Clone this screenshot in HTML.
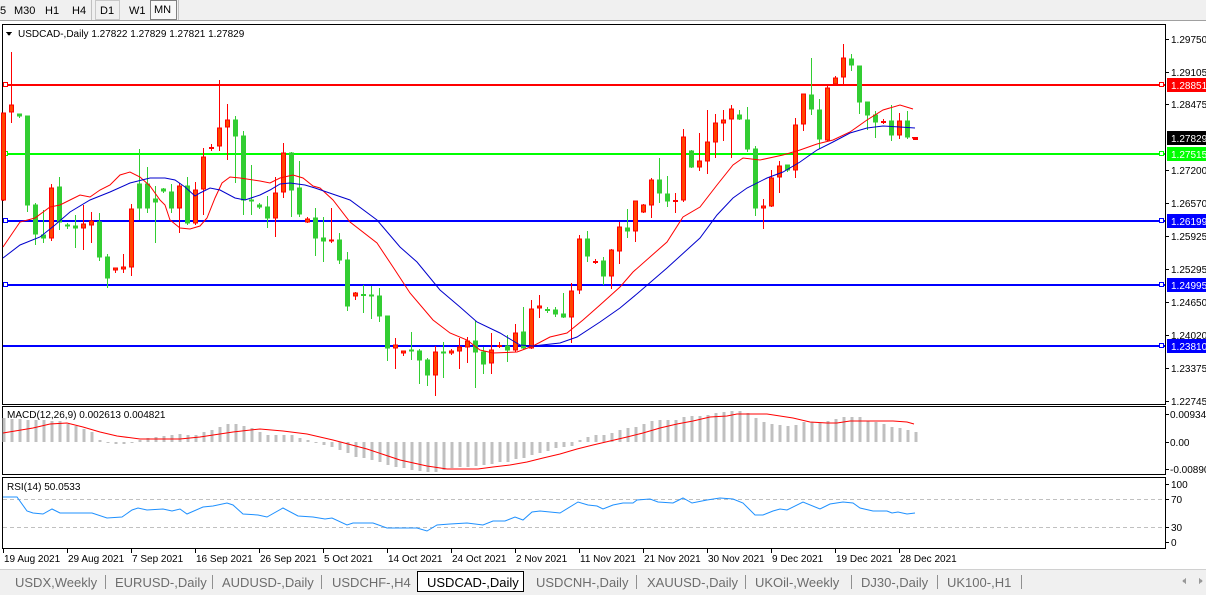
<!DOCTYPE html>
<html><head><meta charset="utf-8">
<style>
html,body{margin:0;padding:0;background:#fff;width:1206px;height:595px;overflow:hidden;font-family:"Liberation Sans",Tahoma,sans-serif;}
svg{display:block}
text{font-family:"Liberation Sans",Tahoma,sans-serif;font-size:10px;fill:#000}
</style></head><body>
<svg id="s" width="1206" height="595" xmlns="http://www.w3.org/2000/svg" shape-rendering="crispEdges">
<rect x="0" y="0" width="1206" height="595" fill="#fff"/>
<rect x="0" y="0" width="1206" height="21" fill="#f0f0f0"/>
<line x1="0" y1="20.5" x2="1206" y2="20.5" stroke="#a0a0a0"/>
<text x="0" y="14" style="font-size:11px">5</text>
<text x="14" y="14" style="font-size:11px">M30</text>
<text x="45" y="14" style="font-size:11px">H1</text>
<text x="72" y="14" style="font-size:11px">H4</text>
<rect x="95.5" y="0.5" width="24" height="19" fill="#f0f0f0" stroke="#c8c8c8"/>
<text x="100" y="14" style="font-size:11px">D1</text>
<text x="129" y="14" style="font-size:11px">W1</text>
<rect x="150.5" y="0.5" width="26" height="19" fill="#f8f8f8" stroke="#808080"/>
<text x="154" y="13" style="font-size:11px">MN</text>
<line x1="91.5" y1="0" x2="91.5" y2="20" stroke="#c0c0c0"/>
<line x1="178.5" y1="0" x2="178.5" y2="20" stroke="#c0c0c0"/>
<rect x="2.5" y="24.5" width="1163" height="380" fill="none" stroke="#000"/>
<rect x="2.5" y="406.5" width="1163" height="68" fill="none" stroke="#000"/>
<rect x="2.5" y="477.5" width="1163" height="71" fill="none" stroke="#000"/>
<g id="g"></g>
<polygon points="6,32 12,32 9,36" fill="#000"/>
<text x="18" y="37">USDCAD-,Daily  1.27822 1.27829 1.27821 1.27829</text>
<text x="7" y="418">MACD(12,26,9) 0.002613 0.004821</text>
<text x="7" y="490">RSI(14) 50.0533</text>
<rect x="0" y="569" width="1206" height="26" fill="#f0f0f0"/>
<line x1="0" y1="569.5" x2="1206" y2="569.5" stroke="#d0d0d0"/>
<rect x="417.5" y="571.5" width="106" height="20" fill="#fff" stroke="#000"/>
<text x="15" y="587" style="font-size:13px;fill:#6d6d6d">USDX,Weekly</text>
<text x="115" y="587" style="font-size:13px;fill:#6d6d6d">EURUSD-,Daily</text>
<text x="222" y="587" style="font-size:13px;fill:#6d6d6d">AUDUSD-,Daily</text>
<text x="332" y="587" style="font-size:13px;fill:#6d6d6d">USDCHF-,H4</text>
<text x="427" y="587" style="font-size:13px;fill:#000">USDCAD-,Daily</text>
<text x="536" y="587" style="font-size:13px;fill:#6d6d6d">USDCNH-,Daily</text>
<text x="647" y="587" style="font-size:13px;fill:#6d6d6d">XAUUSD-,Daily</text>
<text x="755" y="587" style="font-size:13px;fill:#6d6d6d">UKOil-,Weekly</text>
<text x="861" y="587" style="font-size:13px;fill:#6d6d6d">DJ30-,Daily</text>
<text x="947" y="587" style="font-size:13px;fill:#6d6d6d">UK100-,H1</text>
<g stroke="#909090">
<line x1="105.5" y1="575" x2="105.5" y2="589"/><line x1="212.5" y1="575" x2="212.5" y2="589"/>
<line x1="321.5" y1="575" x2="321.5" y2="589"/><line x1="636.5" y1="575" x2="636.5" y2="589"/>
<line x1="745.5" y1="575" x2="745.5" y2="589"/><line x1="851.5" y1="575" x2="851.5" y2="589"/>
<line x1="937.5" y1="575" x2="937.5" y2="589"/><line x1="1021.5" y1="575" x2="1021.5" y2="589"/>
</g>
<polygon points="1186,578 1182,581 1186,584" fill="#999"/>
<polygon points="1199,578 1203,581 1199,584" fill="#999"/>
</svg>
<script>
var g=document.getElementById('g'),h='';
function X(i){return 3.5+8*i;}
var C=[
['u',113,201,113,201],['u',105,113,52,123],['d',114,117,114,118],['d',116,206,116,212],['d',205,235,203,245],['d',235,239,210,243],['u',188,239,184,241],['d',187,223,177,230],['d',225,227,223,229],['d',226,229,215,248],
['u',224,229,205,250],['u',221,226,212,243],['d',222,258,213,261],['d',257,279,254,288],['u',268,271,268,273],['u',267,270,254,273],['u',209,268,204,276],['d',184,209,149,220],['d',184,209,167,213],['d',199,203,186,243],
['d',189,192,188,193],['d',192,209,184,213],['u',186,209,183,233],['d',186,224,177,225],['u',190,224,182,225],['u',157,190,148,215],['u',147,148,144,151],['u',128,147,80,151],['u',120,128,104,160],['d',120,137,116,183],
['d',136,201,131,215],['d',200,202,165,215],['d',205,208,203,209],['d',207,219,196,228],['u',193,219,177,237],['u',153,193,143,198],['d',153,191,152,217],['d',188,215,161,217],['u',219,223,217,223],['d',218,239,208,256],
['d',238,242,217,262],['u',240,242,208,243],['d',240,261,233,264],['d',260,307,252,311],['u',293,297,292,300],['d',294,295,285,313],['d',295,297,286,319],['d',296,317,288,322],['d',316,349,316,361],['u',345,349,338,369],
['u',351,354,351,356],['d',350,352,332,360],['d',351,361,349,384],['d',360,376,358,386],['u',352,376,346,396],['d',352,354,342,378],['u',351,354,349,355],['u',347,352,338,369],['u',341,348,337,363],['d',341,353,321,388],
['d',352,365,347,374],['u',350,364,333,374],['u',345,346,342,348],['d',346,351,335,362],['u',333,351,324,352],['d',332,349,307,349],['u',309,349,300,349],['u',306,309,295,318],['d',309,310,307,313],['d',310,315,307,317],
['d',314,318,293,318],['u',291,318,283,343],['u',239,291,235,294],['d',239,257,231,262],['u',261,262,259,264],['d',261,277,257,285],['u',250,277,249,289],['u',227,252,222,264],['d',228,232,209,238],['u',201,232,201,242],
['u',205,213,204,213],['u',180,206,178,218],['d',180,194,158,203],['d',194,202,176,207],['u',200,201,193,213],['u',137,201,129,202],['d',151,168,150,168],['u',161,168,133,171],['u',142,162,110,174],['u',123,143,114,158],
['u',120,124,110,141],['u',109,120,105,158],['d',115,120,110,120],['d',120,150,107,152],['d',149,209,146,216],['u',206,209,199,229],['u',178,207,170,207],['u',166,178,161,193],['d',165,171,165,172],['u',125,171,118,178],
['u',94,125,94,131],['d',95,110,58,115],['d',110,140,99,149],['u',88,141,86,141],['u',78,85,76,85],['u',58,78,44,84],['d',59,66,54,71],['d',66,103,66,114],['d',102,116,102,130],['d',115,123,111,138],
['u',121,122,119,124],['d',121,136,105,141],['u',121,136,113,139],['d',121,138,111,139],['u',138,138,138,138]];
function poly(p,col,w){return '<polyline fill="none" stroke="'+col+'" stroke-width="'+(w||1)+'" shape-rendering="auto" points="'+p.map(function(a){return a.join(',')}).join(' ')+'"/>';}
function interp(p,x){for(var k=0;k<p.length-1;k++){if(x<=p[k+1][0]){var t=(x-p[k][0])/(p[k+1][0]-p[k][0]);return p[k][1]+t*(p[k+1][1]-p[k][1]);}}return p[p.length-1][1];}
var L=[[85,'#ff0000','1.28851',1],[154,'#00ff00','1.27515',1],[221,'#0000ff','1.26199',1],[285,'#0000ff','1.24995',1],[346,'#0000ff','1.23810',0]];
L.forEach(function(l){h+='<rect x="3" y="'+(l[0]-1)+'" width="1162" height="2" fill="'+l[1]+'"/>';
 if(l[3]){h+='<rect x="3.5" y="'+(l[0]-2.5)+'" width="4" height="4" fill="#fff" stroke="'+l[1]+'"/>';}
 h+='<rect x="1159.5" y="'+(l[0]-2.5)+'" width="4" height="4" fill="#fff" stroke="'+l[1]+'"/>';});
C.forEach(function(c,i){var x=X(i),col=c[0]=='u'?'#ff0000':'#32cd32',fill=c[0]=='u'?'#ff4500':'#32cd32';
 h+='<rect x="'+(x-0.5)+'" y="'+c[3]+'" width="1" height="'+Math.max(1,c[4]-c[3])+'" fill="'+col+'"/>';
 var bh=c[2]-c[1];
 if(bh<2){h+='<rect x="'+(x-2.5)+'" y="'+c[1]+'" width="5" height="2" fill="'+col+'"/>';}
 else h+='<rect x="'+(x-2)+'" y="'+c[1]+'" width="4" height="'+(bh-1)+'" fill="'+fill+'" stroke="'+col+'"/>';});
var red=[[3,247],[20,222],[35,218],[50,207],[60,205],[70,200],[80,195],[90,197],[100,190],[110,185],[120,175],[130,172],[140,177],[150,186],[160,200],[165,205],[170,220],[180,228],[190,229],[200,226],[207,218],[215,198],[222,183],[230,177],[240,178],[260,181],[270,183],[280,178],[293,175],[303,178],[313,186],[320,188],[333,200],[350,222],[377,243],[393,267],[410,293],[433,320],[450,333],[467,340],[480,350],[493,353],[517,352],[533,346],[550,337],[567,333],[583,320],[600,305],[620,287],[633,272],[667,242],[683,217],[700,207],[717,185],[733,165],[743,158],[760,160],[783,155],[800,150],[817,144],[833,140],[850,132],[867,120],[883,110],[900,105],[913,109]];
var blue=[[3,258],[20,245],[40,237],[55,225],[70,212],[90,200],[110,192],[130,183],[150,178],[165,178],[175,180],[185,187],[195,196],[200,193],[210,188],[220,190],[235,198],[245,200],[260,195],[270,190],[280,184],[290,183],[305,185],[315,188],[350,200],[377,220],[400,247],[417,262],[440,290],[460,307],[477,322],[500,333],[520,345],[533,346],[560,343],[577,337],[600,322],[620,308],[638,293],[667,268],[700,238],[717,215],[733,198],[747,188],[767,178],[783,172],[800,162],[817,150],[833,142],[850,133],[867,128],[883,126],[900,127],[915,128]];
h+=poly(red,'#ff0000')+poly(blue,'#0000cc');
h+='<rect x="912" y="137" width="6" height="1.5" fill="#ff0000"/>';
var P=[[39,'1.29750'],[72,'1.29105'],[104,'1.28475'],[170,'1.27200'],[203,'1.26570'],[236,'1.25925'],[269,'1.25295'],[302,'1.24650'],[335,'1.24020'],[368,'1.23375'],[401,'1.22745']];
P.forEach(function(p){h+='<line x1="1166" y1="'+p[0]+'.5" x2="1169" y2="'+p[0]+'.5" stroke="#000"/><text x="1171" y="'+(p[0]+4)+'">'+p[1]+'</text>';});
L.forEach(function(l){h+='<rect x="1167" y="'+(l[0]-7)+'" width="39" height="14" fill="'+l[1]+'"/><text x="1171" y="'+(l[0]+4)+'" style="fill:#fff">'+l[2]+'</text>';});
h+='<rect x="1167" y="131" width="39" height="14" fill="#000"/><text x="1171" y="142" style="fill:#fff">1.27829</text>';
var HP=[[3,418],[35,420],[59,421],[75,426],[91,431],[99,440],[107,443],[123,444],[131,442],[147,438],[163,436],[180,434],[195,435],[203,432],[211,430],[219,427],[227,424],[235,424],[243,426],[251,428],[259,432],[267,435],[292,435],[300,438],[308,440],[315,442],[323,445],[331,447],[340,450],[348,453],[355,457],[363,458],[371,460],[380,462],[387,465],[395,467],[403,468],[411,470],[420,471],[427,472],[435,472],[443,470],[451,468],[459,467],[467,467],[475,466],[483,465],[491,464],[499,462],[507,462],[515,459],[523,458],[531,455],[539,453],[547,451],[555,448],[563,447],[571,446],[579,440],[587,437],[595,435],[603,435],[611,433],[619,430],[627,428],[635,427],[643,424],[651,421],[659,420],[675,420],[683,417],[691,416],[699,416],[707,415],[715,413],[723,412],[731,411],[739,411],[747,413],[755,418],[763,422],[771,424],[779,425],[787,426],[795,425],[803,422],[811,422],[819,423],[827,421],[835,419],[843,417],[859,417],[867,421],[875,422],[883,424],[891,427],[899,428],[907,430],[915,432]];
for(var i=0;i<=114;i++){var x=X(i),y=Math.round(interp(HP,x)),z=442;var t=Math.min(y,z),b=Math.max(y,z);if(b-t<1)b=t+1;h+='<rect x="'+(x-1)+'" y="'+t+'" width="3" height="'+(b-t)+'" fill="#c0c0c0"/>';}
var SIG=[[3,433],[33,428],[50,424],[67,423],[83,427],[100,432],[117,436],[140,439],[180,439],[200,437],[233,432],[260,429],[283,431],[307,434],[333,440],[367,449],[400,460],[427,466],[447,469],[478,469],[493,467],[510,465],[527,462],[543,458],[560,454],[577,449],[593,445],[610,441],[627,437],[643,433],[660,428],[677,424],[693,421],[710,417],[727,416],[737,414],[767,414],[780,416],[793,418],[810,422],[827,423],[837,423],[850,421],[893,421],[907,422],[914,424]];
h+=poly(SIG,'#ff0000');
[[414,'0.009345'],[442,'0.00'],[469,'-0.00890']].forEach(function(p){h+='<line x1="1166" y1="'+p[0]+'.5" x2="1169" y2="'+p[0]+'.5" stroke="#000"/><text x="1170" y="'+(p[0]+4)+'">'+p[1]+'</text>';});
h+='<line x1="3" y1="499.5" x2="1165" y2="499.5" stroke="#c0c0c0" stroke-dasharray="4,3"/><line x1="3" y1="527.5" x2="1165" y2="527.5" stroke="#c0c0c0" stroke-dasharray="4,3"/>';
var R=[[3,497],[17,497],[27,511],[33,513],[43,514],[52,509],[60,513],[92,513],[107,518],[122,517],[132,510],[138,508],[147,510],[163,509],[172,511],[180,509],[187,514],[203,507],[213,506],[227,503],[233,505],[243,514],[258,515],[267,517],[283,508],[298,516],[313,517],[325,519],[332,518],[347,525],[353,523],[373,523],[387,528],[417,528],[427,531],[437,525],[450,524],[467,523],[483,525],[493,521],[505,521],[515,517],[523,520],[532,512],[540,511],[560,513],[578,502],[588,505],[597,506],[603,509],[613,505],[623,503],[633,503],[637,500],[650,499],[658,502],[673,503],[683,498],[692,503],[707,500],[720,498],[733,499],[743,503],[755,515],[763,515],[773,511],[780,509],[787,510],[803,502],[820,509],[830,504],[843,502],[853,503],[860,508],[873,511],[887,511],[892,513],[898,512],[907,514],[915,513]];
h+=poly(R,'#1e90ff');
[[484,'100'],[499,'70'],[527,'30'],[542,'0']].forEach(function(p){h+='<line x1="1166" y1="'+p[0]+'.5" x2="1169" y2="'+p[0]+'.5" stroke="#000"/><text x="1171" y="'+(p[0]+4)+'">'+p[1]+'</text>';});
var D=['19 Aug 2021','29 Aug 2021','7 Sep 2021','16 Sep 2021','26 Sep 2021','5 Oct 2021','14 Oct 2021','24 Oct 2021','2 Nov 2021','11 Nov 2021','21 Nov 2021','30 Nov 2021','9 Dec 2021','19 Dec 2021','28 Dec 2021'];
D.forEach(function(d,k){var x=3+64*k;h+='<line x1="'+(x+0.5)+'" y1="549" x2="'+(x+0.5)+'" y2="553" stroke="#000"/><text x="'+(x+1)+'" y="562">'+d+'</text>';});
g.innerHTML=h;
</script>
</body></html>
